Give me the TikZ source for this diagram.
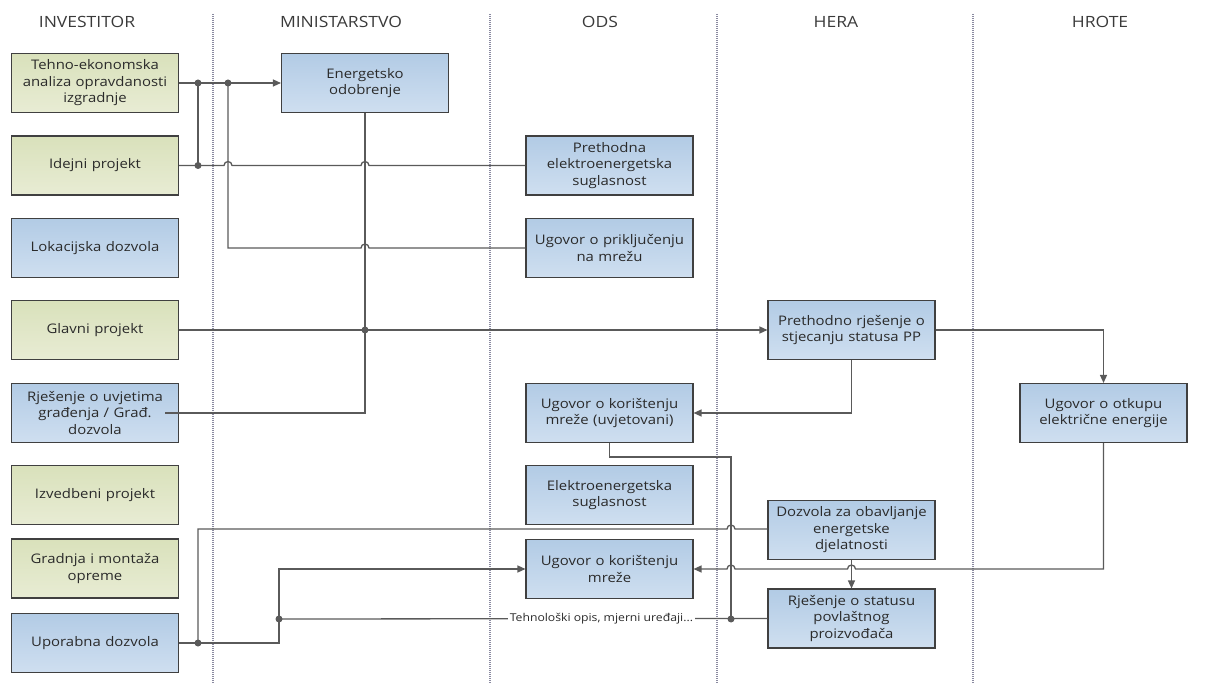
\documentclass[tikz,border=0pt]{standalone}
\usepackage{fontspec}
\setmainfont{Open Sans}[FakeStretch=1.13]
\usetikzlibrary{arrows.meta,calc}
\definecolor{boxline}{HTML}{404040}
\definecolor{bluetop}{HTML}{B2CBE5}
\definecolor{bluebot}{HTML}{CFDFF0}
\definecolor{greentop}{HTML}{D9E1BB}
\definecolor{greenbot}{HTML}{E8ECD4}
\definecolor{linec}{HTML}{5A5A5A}
\definecolor{lanec}{HTML}{8A8AA0}
\definecolor{txt}{HTML}{2A2A2A}
\definecolor{headc}{HTML}{3A3A3A}
\begin{document}
\begin{tikzpicture}[x=1pt,y=-1pt,
  box/.style={draw=boxline, line width=1.1pt, minimum width=167pt, minimum height=59pt,
    inner sep=2pt, text width=163pt, align=center,
    font=\fontsize{13.2}{16.5}\selectfont, text=txt},
  bluebox/.style={box, top color=bluetop, bottom color=bluebot},
  greenbox/.style={box, top color=greentop, bottom color=greenbot},
  conn/.style={draw=linec, line width=1.3pt},
  arr/.style={conn, -{Triangle[length=8pt,width=7pt]}},
  dot/.style={circle, fill=linec, inner sep=0pt, minimum size=7pt},
  lane/.style={draw=lanec, line width=1.2pt, dash pattern=on 1.2pt off 0.8pt},
  head/.style={font=\fontsize{15.5}{17}\selectfont, text=headc}
]
\useasboundingbox (0,0) rectangle (1217,684);

% swimlane dividers and headers
\foreach \lx in {213,490,717,973} \draw[lane] (\lx,14) -- (\lx,684);
\node[head] (hinv) at (87,22) {INVESTITOR};
\node[head] (hmin) at (341,22) {MINISTARSTVO};
\node[head] (hods) at (600,22) {ODS};
\node[head] (hher) at (836,22) {HERA};
\node[head] (hhro) at (1100,22) {HROTE};

% INVESTITOR
\node[greenbox] (t1)   at (95,83)    {Tehno-ekonomska\\analiza opravdanosti\\izgradnje};
\node[greenbox] (t2)   at (95,165.5) {Idejni projekt};
\node[bluebox]  (lok)  at (95,248)   {Lokacijska dozvola};
\node[greenbox] (glav) at (95,330)   {Glavni projekt};
\node[bluebox]  (rjug) at (95,413)   {Rješenje o uvjetima\\građenja / Građ.\\dozvola};
\node[greenbox] (izv)  at (95,495)   {Izvedbeni projekt};
\node[greenbox] (grad) at (95,568.5) {Gradnja i montaža\\opreme};
\node[bluebox]  (upo)  at (95,643)   {Uporabna dozvola};

% MINISTARSTVO
\node[bluebox] (eo) at (365,83) {Energetsko\\odobrenje};

% ODS
\node[bluebox] (pes) at (609.5,165.5) {Prethodna\\elektroenergetska\\suglasnost};
\node[bluebox] (upm) at (609.5,248)   {Ugovor o priključenju\\na mrežu};
\node[bluebox] (ugu) at (609.5,413)   {Ugovor o korištenju\\mreže (uvjetovani)};
\node[bluebox] (es)  at (609.5,495)   {Elektroenergetska\\suglasnost};
\node[bluebox] (ukm) at (609.5,569)   {Ugovor o korištenju\\mreže};

% HERA
\node[bluebox] (prs) at (851.5,330)   {Prethodno rješenje o\\stjecanju statusa PP};
\node[bluebox] (doz) at (851.5,530)   {Dozvola za obavljanje\\energetske\\djelatnosti};
\node[bluebox] (rss) at (851.5,618.5) {Rješenje o statusu\\povlaštnog\\proizvođača};

% HROTE
\node[bluebox] (hro) at (1103.5,413) {Ugovor o otkupu\\električne energije};

% junction dots
\node[dot] (d1) at (198,83) {};
\node[dot] (d2) at (228,83) {};
\node[dot] (d3) at (198,165.5) {};
\node[dot] (d4) at (365,330) {};
\node[dot] (d5) at (198,643) {};
\node[dot] (d6) at (279,619) {};
\node[dot] (d7) at (731,619) {};

% connectors
\draw[arr] (t1.east) -- (eo.west);
\draw[conn] (d1.center) -- (d3.center);
\draw[conn] (t2.east) -- (224,165.5) arc[start angle=180,end angle=0,radius=4pt]
  -- (361,165.5) arc[start angle=180,end angle=0,radius=4pt] -- (pes.west);
\draw[conn] (d2.center) -- (228,248)
  -- (361,248) arc[start angle=180,end angle=0,radius=4pt] -- (upm.west);
\draw[conn] (eo.south) -- (365,413) -- ([xshift=-14pt]rjug.east);
\draw[arr] (glav.east) -- (prs.west);
\draw[arr] (prs.east) -| (hro.north);
\draw[arr] (prs.south) |- (ugu.east);
\draw[conn] (ugu.south) -- (609.5,457) -| (d7.center);
\draw[conn] (rss.west) -- node[pos=0.34, fill=white, inner sep=1.5pt,
  font=\fontsize{10.8}{12}\selectfont, text=txt] {Tehnološki opis, mjerni uređaji...} (d6.center);
\draw[arr] (upo.east) -- (279,643) -- (279,569) -- (ukm.west);
\draw[conn] (d5.center) -- (198,529)
  -- (727,529) arc[start angle=180,end angle=0,radius=4pt] -- (doz.west |- 0,529);
\draw[arr] (hro.south) -- (1103.5,569)
  -- (855.5,569) arc[start angle=0,end angle=180,radius=4pt]
  -- (735,569) arc[start angle=0,end angle=180,radius=4pt] -- (ukm.east);
\draw[arr] (doz.south) -- (rss.north);
\end{tikzpicture}
\end{document}
